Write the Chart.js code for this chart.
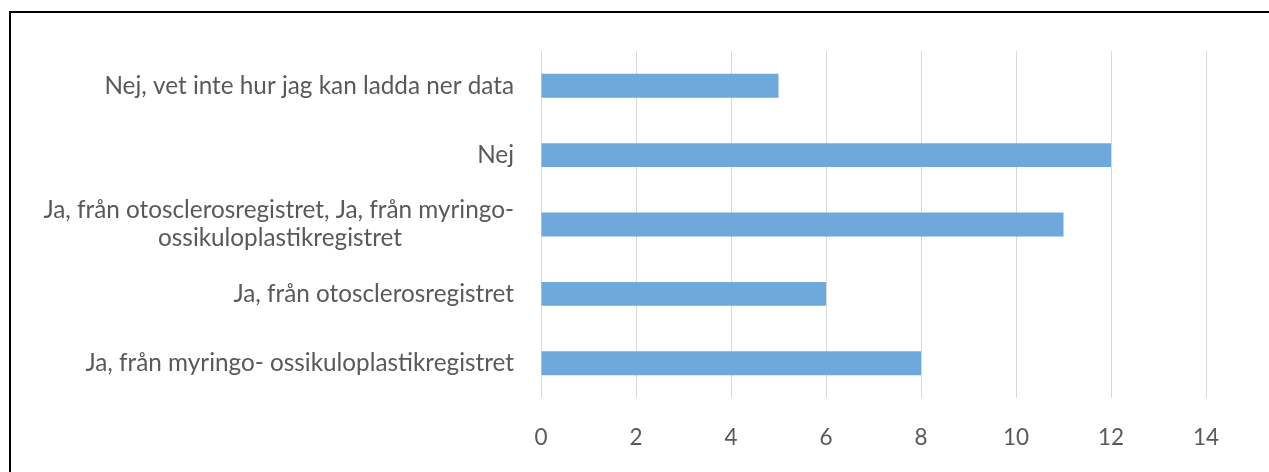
<!DOCTYPE html>
<html>
<head>
<meta charset="utf-8">
<script src="https://cdn.jsdelivr.net/npm/chart.js@4/dist/chart.umd.min.js"></script>
<style>
	html, body { margin: 0; padding: 0; background: #fff; }
	#wrap { position: relative; width: 1269px; height: 472px; overflow: hidden; }
	#frame { position: absolute; left: 9px; top: 11px; width: 1400px; height: 600px; border-left: 2px solid #000; border-top: 2px solid #000; }
	#chart { position: absolute; left: 0; top: 0; }
</style>
</head>
<body>
<div id="wrap">
	<div id="frame"></div>
	<canvas id="chart" width="1269" height="472"></canvas>
</div>
<script>
var categories = [
	"Nej, vet inte hur jag kan ladda ner data",
	"Nej",
	["Ja, från otosclerosregistret, Ja, från myringo-", "ossikuloplastikregistret"],
	"Ja, från otosclerosregistret",
	"Ja, från myringo- ossikuloplastikregistret"
];
var answers = [5, 12, 11, 6, 8];
var xTicks = [0, 2, 4, 6, 8, 10, 12, 14];

var fontFamily = "Lato, 'Open Sans', sans-serif";
var fontSize = 24.3;

// centre the lines of a wrapped label by padding the shorter ones
var measure = document.createElement("canvas").getContext("2d");
measure.font = fontSize + "px " + fontFamily;
function centerLines(label) {
	if (!Array.isArray(label)) return label;
	var widths = label.map(function(l){ return measure.measureText(l).width; });
	var maxW = Math.max.apply(null, widths);
	var sp = measure.measureText("\u00a0").width;
	return label.map(function(l, i){
		var n = Math.round((maxW - widths[i]) / 2 / sp);
		return l + "\u00a0".repeat(n);
	});
}

var ctx = document.getElementById("chart");
var chart = new Chart(ctx, {
	type: "bar",
	data: {
		labels: categories,
		datasets: [{
			data: answers,
			backgroundColor: "#6fa9dc",
			borderWidth: 0,
			barPercentage: 0.345,
			categoryPercentage: 1
		}]
	},
	options: {
		indexAxis: "y",
		responsive: false,
		animation: false,
		plugins: { legend: { display: false }, tooltip: { enabled: false } },
		layout: { padding: { top: 51, right: 63, bottom: 0, left: 0 } },
		scales: {
			x: {
				min: 0,
				max: 14,
				afterBuildTicks: function(scale){ scale.ticks = xTicks.map(function(v){ return { value: v }; }); },
				afterFit: function(scale){ scale.height = 74; },
				grid: { color: "#d9d9d9", lineWidth: 1, drawTicks: false },
				border: { display: false },
				ticks: { color: "#595959", padding: 26, font: { family: fontFamily, size: 22.5 } }
			},
			y: {
				afterFit: function(scale){ scale.width = 541; },
				grid: { display: false, drawTicks: false },
				border: { display: false },
				ticks: {
					color: "#595959",
					padding: 27,
					autoSkip: false,
					font: { family: fontFamily, size: fontSize, lineHeight: 1.15 },
					callback: function(value, index){ return centerLines(categories[index]); }
				}
			}
		}
	}
});
</script>
</body>
</html>
